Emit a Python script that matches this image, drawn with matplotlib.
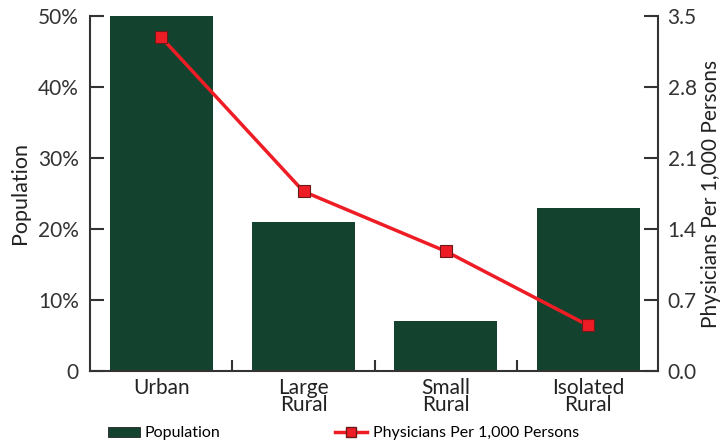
import matplotlib
matplotlib.use("Agg")
import matplotlib.pyplot as plt
from matplotlib.lines import Line2D
from matplotlib.patches import Patch

# data
categories = ["Urban", "Large\nRural", "Small\nRural", "Isolated\nRural"]
population = [50, 21, 7, 23]                 # percent
physicians = [3.29, 1.77, 1.18, 0.45]        # per 1,000 persons
pop_ticks = [0, 10, 20, 30, 40, 50]
pop_labels = ["0", "10%", "20%", "30%", "40%", "50%"]
phys_ticks = [0.0, 0.7, 1.4, 2.1, 2.8, 3.5]

plt.rcParams['font.family'] = ['Lato', 'DejaVu Sans']

green = "#13432f"
red = "#ee1c25"
dark = "#333333"

fig = plt.figure(figsize=(7.23, 4.44), dpi=100)
ax = fig.add_axes([0.1245, 0.1644, 0.7855, 0.7996])

x = range(len(categories))
ax.bar(x, population, width=0.725, color=green, zorder=2)
ax.set_xlim(-0.5, 3.49)
ax.set_ylim(0, 50)
ax.set_yticks(pop_ticks)
ax.set_yticklabels(pop_labels)
ax.set_ylabel("Population", fontsize=15.5, color="#222222", labelpad=6)

# category labels without tick marks, small inward ticks between groups
ax.set_xticks(list(x))
ax.set_xticklabels(categories, fontsize=15, color="#222222", linespacing=0.8)
ax.tick_params(axis='x', length=0, pad=5)
ax.set_xticks([0.5, 1.5, 2.5], minor=True)
ax.tick_params(axis='x', which='minor', direction='in', length=8, width=1.5, color=dark)
ax.tick_params(axis='y', direction='in', length=10, width=1.5, color=dark,
               labelsize=15, labelcolor="#333333", pad=8)

for side in ["top", "right"]:
    ax.spines[side].set_visible(False)
for side in ["left", "bottom"]:
    ax.spines[side].set_linewidth(1.5)
    ax.spines[side].set_color(dark)

ax2 = ax.twinx()
ax2.plot(x, physicians, color=red, linewidth=2.5, marker="s", markersize=9,
         markerfacecolor=red, markeredgecolor="#6b1a1a", markeredgewidth=0.8,
         zorder=3)
ax2.set_ylim(0, 3.5)
ax2.set_yticks(phys_ticks)
ax2.set_yticklabels([f"{t:.1f}" for t in phys_ticks])
ax2.tick_params(axis='y', direction='in', length=10, width=1.5, color=dark,
                labelsize=15, labelcolor="#333333", pad=7)
ax2.set_ylabel("Physicians Per 1,000 Persons", fontsize=15, color="#222222",
               labelpad=3)
for side in ["top", "left", "bottom"]:
    ax2.spines[side].set_visible(False)
ax2.spines["right"].set_linewidth(1.5)
ax2.spines["right"].set_color(dark)

# legend along the bottom edge, two separate entries
pop_handle = Patch(facecolor=green, edgecolor="#222222", linewidth=0.6,
                   label="Population")
phys_handle = Line2D([0], [0], color=red, linewidth=2.5, marker="s", markersize=7,
                     markerfacecolor=red, markeredgecolor="#6b1a1a",
                     label="Physicians Per 1,000 Persons")
fig.legend(handles=[pop_handle], loc="center left",
           bbox_to_anchor=(108 / 723, 0.024), frameon=False, fontsize=11.5,
           handlelength=2.0, handleheight=0.6, handletextpad=0.3,
           borderpad=0, borderaxespad=0)
fig.legend(handles=[phys_handle], loc="center left",
           bbox_to_anchor=(335 / 723, 0.024), frameon=False, fontsize=11.5,
           handlelength=2.0, handletextpad=0.4, borderpad=0, borderaxespad=0)

fig.savefig("out.png", dpi=100)
